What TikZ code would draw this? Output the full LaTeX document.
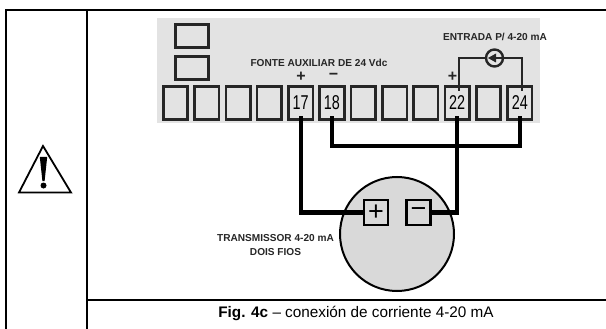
\documentclass[tikz,border=0pt]{standalone}
\usepackage{fontspec}
\setmainfont{Liberation Sans}
\usetikzlibrary{positioning}
\newcommand{\termnum}[1]{\raisebox{-2pt}{\scalebox{.72}[1]{#1}}}

\begin{document}
\begin{tikzpicture}[x=1pt, y=-1pt, node distance = 6.8pt]
\tikzstyle{frame} = [line width = 2pt, black]
\tikzstyle{panel} = [fill = black!11, draw = none]
\tikzstyle{terminal} = [rectangle, draw = black!85, line width = 2.6pt, fill = black!11, minimum width = 24.5pt, minimum height = 33pt, inner sep = 0pt, outer sep = 0pt, font = \fontsize{20}{20}\selectfont]
\tikzstyle{display} = [rectangle, draw = black!85, line width = 2.6pt, minimum width = 33pt, minimum height = 23pt, outer sep = 0pt]
\tikzstyle{polebox} = [rectangle, draw = black, line width = 2.4pt, minimum width = 24pt, minimum height = 25pt, inner sep = 0pt, outer sep = 0pt, font = \fontsize{27}{27}\selectfont]
\tikzstyle{wire} = [line width = 4.4pt, black]
\tikzstyle{thinwire} = [line width = 2pt, black!85]
\tikzstyle{label} = [font = \bfseries\fontsize{10.1}{14.6}\selectfont, inner sep = 0pt, black!85]
\tikzstyle{sign} = [font = \bfseries\fontsize{16}{16}\selectfont, inner sep = 0pt, black!85]
\useasboundingbox (0,0) rectangle (606,329);
% table
\coordinate (tl) at (6,10);
\coordinate (tm) at (86.5,10);
\coordinate (tr) at (606,10);
\coordinate (bl) at (6,329);
\coordinate (bm) at (86.5,329);
\coordinate (cm) at (86.5,300);
\coordinate (cr) at (606,300);
\draw[frame] (bl) -- (tl) -- (tr);
\draw[frame] (tm) -- (bm);
\draw[frame] (cm) -- (cr);
% warning sign
\coordinate (apex) at (43,146);
\coordinate (baseleft) at (19,192.5);
\coordinate (baseright) at (71,192.5);
\draw[line width = 1.8pt, line join = miter] (apex) -- (baseright) -- (baseleft) -- cycle;
\fill (39.8,157) -- (47.2,157) -- (44.6,181) -- (42.4,181) -- cycle;
\fill (43.5,185.5) circle (3pt);
% panel
\fill[panel] (157,18) rectangle (540,123);
\node[display] (disp1) at (192,36) {};
\node[display] (disp2) at (192,68) {};
% terminals
\node[terminal] (t1) at (175.5,103) {};
\node[terminal, right=of t1] (t2) {};
\node[terminal, right=of t2] (t3) {};
\node[terminal, right=of t3] (t4) {};
\node[terminal, right=of t4] (t17) {\termnum{17}};
\node[terminal, right=of t17] (t18) {\termnum{18}};
\node[terminal, right=of t18] (t19) {};
\node[terminal, right=of t19] (t20) {};
\node[terminal, right=of t20] (t21) {};
\node[terminal, right=of t21] (t22) {\termnum{22}};
\node[terminal, right=of t22] (t23) {};
\node[terminal, right=of t23] (t24) {\termnum{24}};
% transmitter
\node[circle, draw = black, line width = 2pt, fill = black!15, minimum size = 114pt, inner sep = 0pt] (tx) at (397,234) {};
\node[polebox] (plus) at (376,212.5) {+};
\node[polebox] (minus) at (418.5,212.5) {−};
% labels
\node[label] (aux) at (319,62.5) {FONTE AUXILIAR DE 24 Vdc};
\node[sign] (auxp) at (301,76.5) {+};
\node[sign] (auxm) at (333.5,76.5) {−};
\node[label] (in) at (495,36.5) {ENTRADA P/ 4-20 mA};
\node[sign] (inp) at (452.5,76.5) {+};
\node[label, align = center] (txname) at (275.5,245) {TRANSMISSOR 4-20 mA\\DOIS FIOS};
\node[inner sep = 0pt, font = \fontsize{15.3}{16}\selectfont] (caption) at (356,313) {\textbf{Fig. 4c} – conexión de corriente 4-20 mA};
% wires
\coordinate (w17) at ([yshift=3pt]t17.south);
\coordinate (w18) at ([yshift=3pt]t18.south);
\coordinate (w22) at ([yshift=3pt]t22.south);
\coordinate (w24) at ([yshift=3pt]t24.south);
\coordinate (bend17) at (w17 |- plus.west);
\coordinate (bend22) at (w22 |- minus.east);
\coordinate (bus) at (332,146);
\draw[wire] (w17) -- (bend17) -- (plus.west);
\draw[wire] (w22) -- (bend22) -- (minus.east);
\draw[wire] (w18) -- (w18 |- bus) -- (w24 |- bus) -- (w24);
% current meter
\node[circle, draw = black!85, line width = 2.4pt, minimum size = 17pt, inner sep = 0pt] (meter) at (494.5,58) {};
\coordinate (inleft) at ([xshift=1.8pt, yshift=-4.5pt]t22.north);
\coordinate (inright) at ([xshift=2pt, yshift=-4.5pt]t24.north);
\draw[thinwire] (inleft) |- (meter.west);
\draw[thinwire] (inright) |- (meter.east);
\fill[black!85] (488,58) -- (496,53.5) -- (496,62.5) -- cycle;
\draw[thinwire] (496,58) -- (meter.east);
\end{tikzpicture}
\end{document}
